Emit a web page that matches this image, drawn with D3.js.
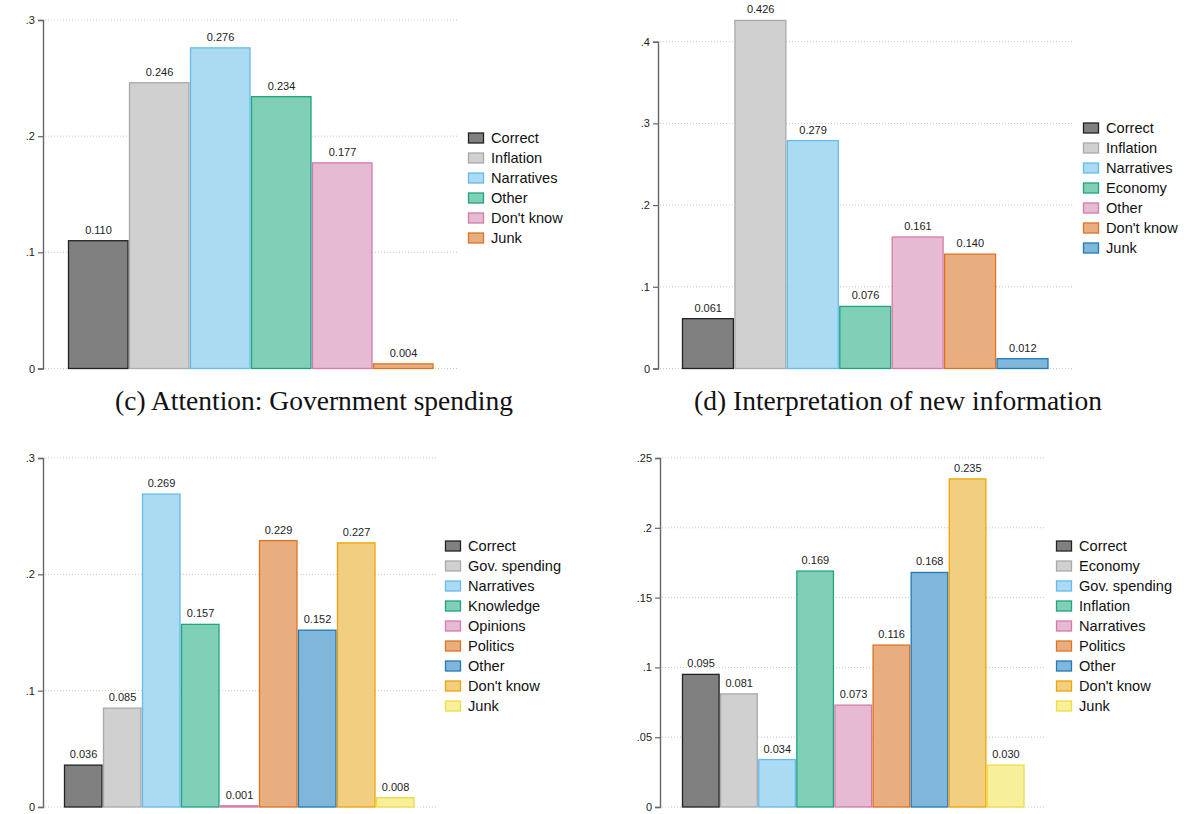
<!DOCTYPE html>
<html>
<head>
<meta charset="utf-8">
<script src="https://cdn.jsdelivr.net/npm/d3@7"></script>
<style>
  body { margin: 0; background: #fff; }
  svg { display: block; }
</style>
</head>
<body>
<svg id="chart" width="1187" height="814"></svg>
<script>
// Panel (c): attention, government spending
const catsC = ["Correct", "Inflation", "Narratives", "Other", "Don't know", "Junk"];
const valsC = [0.110, 0.246, 0.276, 0.234, 0.177, 0.004];
const ticksC = [0, 0.1, 0.2, 0.3];

// Panel (d): interpretation of new information
const catsD = ["Correct", "Inflation", "Narratives", "Economy", "Other", "Don't know", "Junk"];
const valsD = [0.061, 0.426, 0.279, 0.076, 0.161, 0.140, 0.012];
const ticksD = [0, 0.1, 0.2, 0.3, 0.4];

// Bottom-left panel
const catsE = ["Correct", "Gov. spending", "Narratives", "Knowledge", "Opinions", "Politics", "Other", "Don't know", "Junk"];
const valsE = [0.036, 0.085, 0.269, 0.157, 0.001, 0.229, 0.152, 0.227, 0.008];
const ticksE = [0, 0.1, 0.2, 0.3];

// Bottom-right panel
const catsF = ["Correct", "Economy", "Gov. spending", "Inflation", "Narratives", "Politics", "Other", "Don't know", "Junk"];
const valsF = [0.095, 0.081, 0.034, 0.169, 0.073, 0.116, 0.168, 0.235, 0.030];
const ticksF = [0, 0.05, 0.1, 0.15, 0.2, 0.25];

const captions = ["(c) Attention: Government spending", "(d) Interpretation of new information"];

// bar colours go in order, whatever the category
const fills   = ["#808080", "#d0d0d0", "#abdaf3", "#80cfb7", "#e6bad2", "#e9ae80", "#80b6d9", "#f2cf80", "#f8ef9b"];
const strokes = ["#222222", "#a9a9a9", "#66bbea", "#1fa480", "#d47cab", "#e07320", "#1f7ab6", "#f0a300", "#eedc45"];

const svg = d3.select("#chart");
const tickFmt = d => d === 0 ? "0" : d3.format(".2~f")(d).replace(/^0/, "");
const valFmt = d3.format(".3f");

function drawPanel(cats, vals, ticks, lay) {
  const g = svg.append("g");
  const y = d3.scaleLinear()
    .domain([0, d3.max(ticks)])
    .range([lay.y0, lay.y1]);
  const x = d3.scaleBand()
    .domain(cats)
    .range([lay.bx0, lay.bx1]);

  // dotted grid
  g.selectAll("line.grid")
    .data(ticks)
    .enter()
    .append("line")
    .attr("x1", lay.ax + 2)
    .attr("x2", lay.gridEnd)
    .attr("y1", d => y(d))
    .attr("y2", d => y(d))
    .attr("stroke", "#c8c8c8")
    .attr("stroke-width", 1)
    .attr("stroke-dasharray", "1,2");

  // axis
  const axis = d3.axisLeft(y)
    .tickValues(ticks)
    .tickFormat(tickFmt)
    .tickSize(5)
    .tickPadding(3);
  const ag = g.append("g")
    .attr("transform", `translate(${lay.ax},0)`)
    .call(axis);
  ag.select(".domain").attr("stroke", "#666").attr("stroke-width", 1.4);
  ag.selectAll(".tick line").attr("stroke", "#666").attr("stroke-width", 1.2);
  ag.selectAll(".tick text")
    .style("font-family", "'Liberation Sans', Arial, sans-serif")
    .style("font-size", "11px")
    .attr("fill", "#222");

  // bars
  g.selectAll("rect.bar")
    .data(vals)
    .enter()
    .append("rect")
    .attr("x", (d, i) => x(cats[i]) + 0.5)
    .attr("width", x.bandwidth() - 1.5)
    .attr("y", d => y(d))
    .attr("height", d => Math.max(0.8, y(0) - y(d)))
    .attr("fill", (d, i) => fills[i])
    .attr("stroke", (d, i) => strokes[i])
    .attr("stroke-width", 1.3);

  // value labels
  g.selectAll("text.val")
    .data(vals)
    .enter()
    .append("text")
    .attr("x", (d, i) => x(cats[i]) + x.bandwidth() / 2)
    .attr("y", d => y(d) - 7)
    .attr("text-anchor", "middle")
    .style("font-family", "'Liberation Sans', Arial, sans-serif")
    .style("font-size", "11px")
    .attr("fill", "#222")
    .text(d => valFmt(d));

  // legend
  const lg = g.append("g")
    .attr("transform", `translate(${lay.lx},${lay.ly})`);
  const items = lg.selectAll("g")
    .data(cats)
    .enter()
    .append("g")
    .attr("transform", (d, i) => `translate(0,${i * 20})`);
  items.append("rect")
    .attr("x", 0.5)
    .attr("y", -5)
    .attr("width", 15)
    .attr("height", 10)
    .attr("fill", (d, i) => fills[i])
    .attr("stroke", (d, i) => strokes[i])
    .attr("stroke-width", 1.3);
  items.append("text")
    .attr("x", 23)
    .attr("y", 5)
    .style("font-family", "'Liberation Sans', Arial, sans-serif")
    .style("font-size", "14.6px")
    .attr("fill", "#111")
    .text(d => d);
}

drawPanel(catsC, valsC, ticksC, { ax: 43, y0: 368.5, y1: 20, bx0: 68, bx1: 434, gridEnd: 458, lx: 468, ly: 138 });
drawPanel(catsD, valsD, ticksD, { ax: 658, y0: 368.5, y1: 41.7, bx0: 682, bx1: 1049, gridEnd: 1074, lx: 1083, ly: 128 });
drawPanel(catsE, valsE, ticksE, { ax: 43, y0: 807, y1: 458, bx0: 64, bx1: 415, gridEnd: 436, lx: 445, ly: 546 });
drawPanel(catsF, valsF, ticksF, { ax: 660, y0: 807, y1: 458, bx0: 682, bx1: 1025, gridEnd: 1046, lx: 1056, ly: 546 });

// captions
svg.selectAll("text.cap")
  .data(captions)
  .enter()
  .append("text")
  .attr("x", (d, i) => i === 0 ? 314 : 898)
  .attr("y", 410)
  .attr("text-anchor", "middle")
  .style("font-family", "'Liberation Serif', 'Times New Roman', serif")
  .style("font-size", "27.5px")
  .attr("fill", "#111")
  .text(d => d);
</script>
</body>
</html>
